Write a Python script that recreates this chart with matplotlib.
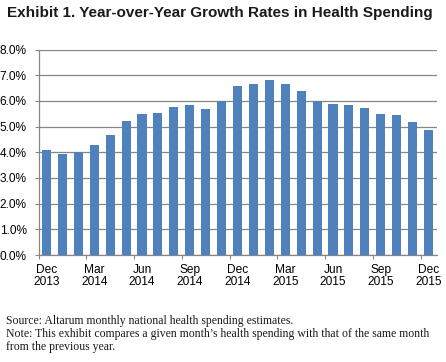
"""Exhibit 1 - year-over-year growth rates in health spending (bar chart)."""
import matplotlib
matplotlib.use("Agg")
import matplotlib.pyplot as plt
from matplotlib.ticker import FixedLocator, FuncFormatter

months = [
    "Dec 2013", "Jan 2014", "Feb 2014", "Mar 2014", "Apr 2014", "May 2014",
    "Jun 2014", "Jul 2014", "Aug 2014", "Sep 2014", "Oct 2014", "Nov 2014",
    "Dec 2014", "Jan 2015", "Feb 2015", "Mar 2015", "Apr 2015", "May 2015",
    "Jun 2015", "Jul 2015", "Aug 2015", "Sep 2015", "Oct 2015", "Nov 2015",
    "Dec 2015",
]
growth = [
    4.08, 3.93, 4.01, 4.28, 4.66, 5.22,
    5.49, 5.53, 5.78, 5.83, 5.70, 5.99,
    6.58, 6.66, 6.80, 6.66, 6.38, 5.99,
    5.87, 5.86, 5.74, 5.49, 5.45, 5.19,
    4.86,
]
y_ticks = [0, 1, 2, 3, 4, 5, 6, 7, 8]

title = "Exhibit 1. Year-over-Year Growth Rates in Health Spending"
notes = [
    "Source: Altarum monthly national health spending estimates.",
    "Note: This exhibit compares a given month\u2019s health spending with that of the same month",
    "from the previous year.",
]

BLUE = "#4F81BD"
GRID = "#868686"
SANS = ["Liberation Sans Narrow", "Liberation Sans", "DejaVu Sans"]
SERIF = ["Liberation Serif", "DejaVu Serif"]

W, H = 446, 362
fig = plt.figure(figsize=(W / 100, H / 100), dpi=100)
ax = fig.add_axes([38.5 / W, 1 - 255 / H, 398 / W, (255 - 49.5) / H])

x = list(range(len(months)))
ax.bar(x, growth, width=0.57, color=BLUE, zorder=3)

ax.set_xlim(-0.5, len(months) - 0.5)
ax.set_ylim(0, 8.005)
ax.set_yticks(y_ticks)
ax.yaxis.set_major_formatter(FuncFormatter(lambda v, _: f"{v:.1f}%"))
ax.grid(axis="y", color=GRID, linewidth=0.9, zorder=0)
ax.set_axisbelow(True)

# tick marks between groups of three months, labels under the quarter months
ax.xaxis.set_major_locator(FixedLocator([i - 0.5 for i in x[::3]]))
ax.xaxis.set_minor_locator(FixedLocator(x[::3]))
ax.set_xticklabels([], minor=False)
ax.set_xticklabels([m.replace(" ", "\n") for m in months[::3]], minor=True,
                   family=SANS, fontsize=8.6, linespacing=1.05)
ax.tick_params(axis="x", which="major", length=3.2, width=0.8, color=GRID, direction="out")
ax.tick_params(axis="x", which="minor", length=0, pad=6.2)
ax.tick_params(axis="y", length=3.2, width=0.8, color=GRID, pad=5.2)
for lab in ax.get_yticklabels():
    lab.set_family(SANS)
    lab.set_fontsize(8.6)

for side in ("top", "right"):
    ax.spines[side].set_visible(False)
for side in ("left", "bottom"):
    ax.spines[side].set_color(GRID)
    ax.spines[side].set_linewidth(0.9)

fig.text(7 / W, 1 - 17.5 / H, title, family=SANS, fontweight="bold",
         fontsize=10.95, color="#1a1a1a", va="baseline", ha="left")
for i, line in enumerate(notes):
    fig.text(6 / W, 1 - (324 + 13 * i) / H, line, family=SERIF, fontsize=8.5,
             color="#1a1a1a", va="baseline", ha="left")

fig.savefig("out.png", dpi=100)
